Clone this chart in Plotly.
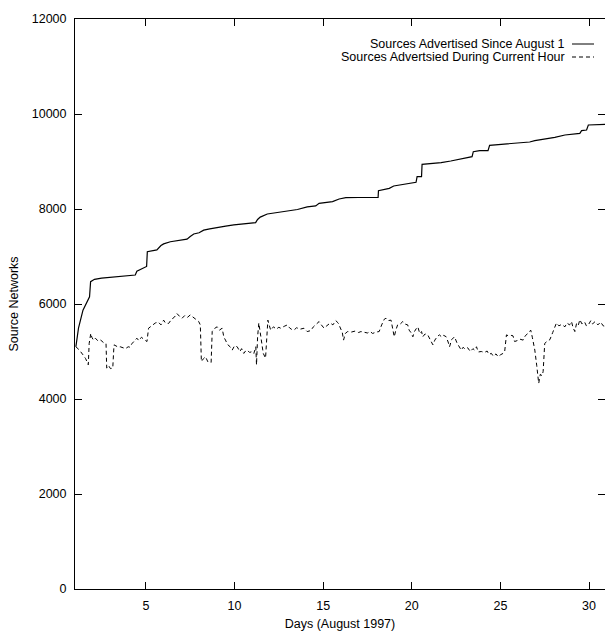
import plotly.graph_objects as go

# Cumulative sources advertised since August 1
days_total = [1.05, 1.2, 1.45, 1.7, 1.82, 1.88, 2.1, 2.5, 3.0, 3.5, 4.0, 4.4, 4.49, 4.7, 5.04, 5.08,
              5.4, 5.62, 5.85, 6.0, 6.38, 6.8, 7.32, 7.5, 7.7, 8.0, 8.26, 8.6, 9.02, 9.5, 9.96, 10.6,
              11.19, 11.3, 11.45, 11.85, 12.5, 13.0, 13.55, 14.1, 14.58, 14.77, 15.2, 15.53, 15.9,
              16.28, 17.0, 17.5, 18.1, 18.12, 18.5, 18.73, 18.98, 19.5, 20.0, 20.24, 20.3, 20.55,
              20.58, 21.0, 21.66, 22.2, 22.79, 23.4, 23.47, 23.83, 24.3, 24.39, 25.05, 25.8, 26.65,
              26.94, 27.5, 28.07, 28.64, 29.48, 29.58, 29.86, 29.96, 31.0]
total = [5100, 5500, 5870, 6050, 6150, 6470, 6520, 6545, 6560, 6575, 6595, 6610, 6690, 6730, 6790, 7100,
         7130, 7140, 7230, 7265, 7310, 7335, 7365, 7420, 7475, 7500, 7555, 7580, 7615, 7640, 7665, 7690,
         7712, 7780, 7830, 7895, 7930, 7960, 7990, 8045, 8065, 8120, 8135, 8155, 8210,
         8238, 8242, 8244, 8246, 8386, 8410, 8435, 8484, 8515, 8540, 8562, 8681, 8681,
         8941, 8955, 8975, 9010, 9053, 9101, 9207, 9228, 9228, 9341, 9362, 9385, 9411,
         9438, 9470, 9509, 9558, 9593, 9649, 9663, 9768, 9783]

# Sources advertised during the current hour
days_hour = [1.05, 1.25, 1.45, 1.6, 1.75, 1.8, 1.89, 1.95, 2.04, 2.15, 2.3, 2.45, 2.6, 2.75, 2.79, 2.9,
             3.0, 3.13, 3.2, 3.3, 3.45, 3.55, 3.7, 3.85, 4.0, 4.1, 4.2, 4.3, 4.4, 4.49, 4.6, 4.75,
             4.9, 5.06, 5.15, 5.3, 5.45, 5.53, 5.7, 5.85, 6.0, 6.1, 6.28, 6.45, 6.6, 6.75, 6.9,
             7.04, 7.2, 7.35, 7.5, 7.65, 7.8, 7.98, 8.07, 8.13, 8.25, 8.36, 8.5, 8.68, 8.74, 8.85,
             9.02, 9.15, 9.3, 9.4, 9.49, 9.6, 9.75, 9.87, 10.0, 10.15, 10.3, 10.4, 10.52, 10.62,
             10.72, 10.85, 11.0, 11.09, 11.2, 11.24, 11.3, 11.37, 11.45, 11.5, 11.58, 11.62, 11.75,
             11.82, 11.88, 11.96, 12.04, 12.2, 12.35, 12.5, 12.6, 12.8, 12.98, 13.1, 13.2, 13.35,
             13.5, 13.7, 13.92, 14.1, 14.3, 14.45, 14.6, 14.77, 14.9, 15.05, 15.2, 15.4, 15.55,
             15.71, 15.85, 16.0, 16.08, 16.15, 16.25, 16.38, 16.6, 16.8, 17.0, 17.13, 17.3, 17.5,
             17.65, 17.79, 18.0, 18.16, 18.3, 18.45, 18.54, 18.65, 18.83, 18.92, 19.01, 19.1, 19.2,
             19.3, 19.49, 19.6, 19.77, 19.85, 19.95, 20.06, 20.15, 20.25, 20.34, 20.45, 20.55,
             20.62, 20.75, 20.9, 21.05, 21.19, 21.3, 21.45, 21.56, 21.7, 21.8, 21.94, 22.05, 22.13,
             22.25, 22.41, 22.55, 22.65, 22.79, 22.9, 23.0, 23.15, 23.3, 23.45, 23.54, 23.65, 23.75,
             23.92, 24.1, 24.25, 24.35, 24.49, 24.6, 24.75, 24.87, 25.0, 25.15, 25.24, 25.34, 25.45,
             25.6, 25.71, 25.8, 25.95, 26.1, 26.28, 26.4, 26.55, 26.71, 26.8, 26.94, 27.05, 27.13,
             27.16, 27.25, 27.35, 27.41, 27.46, 27.5, 27.65, 27.79, 27.95, 28.05, 28.16, 28.3, 28.45,
             28.64, 28.75, 28.9, 29.01, 29.1, 29.2, 29.3, 29.4, 29.48, 29.6, 29.75, 29.85, 29.96,
             30.1, 30.2, 30.34, 30.5, 30.65, 30.8, 31.0]
hourly = [5100, 5030, 4930, 4850, 4720, 5170, 5380, 5300, 5240, 5280, 5220, 5240, 5190, 5170, 4650, 4700,
          4640, 4650, 5140, 5120, 5090, 5100, 5080, 5060, 5100, 5090, 5160, 5200, 5260, 5280, 5230, 5300,
          5250, 5210, 5490, 5540, 5580, 5600, 5620, 5560, 5660, 5600, 5590, 5680, 5720, 5800, 5740,
          5700, 5760, 5720, 5770, 5720, 5680, 5630, 5560, 4790, 4850, 4890, 4780, 4770, 5420, 5480,
          5520, 5450, 5490, 5300, 5240, 5150, 5100, 5030, 5120, 5100, 5000, 5060, 4960, 5010,
          5030, 4980, 5000, 4960, 5100, 4720, 5300, 5600, 5400, 5240, 5100, 4960, 4860,
          5200, 5660, 5550, 5450, 5520, 5470, 5510, 5490, 5530, 5560, 5500, 5470, 5450,
          5500, 5470, 5490, 5420, 5440, 5520, 5580, 5630, 5560, 5490, 5540, 5600, 5560,
          5650, 5600, 5490, 5400, 5240, 5380, 5420, 5410, 5430, 5400, 5420, 5400, 5390,
          5420, 5380, 5410, 5420, 5560, 5680, 5700, 5650, 5660, 5480, 5310, 5450, 5560,
          5560, 5630, 5580, 5560, 5450, 5400, 5310, 5420, 5480, 5520, 5380, 5420,
          5310, 5370, 5350, 5250, 5140, 5240, 5320, 5350, 5300, 5340, 5310, 5200, 5100,
          5250, 5310, 5180, 5120, 5030, 5090, 5050, 5080, 5000, 5060, 5030, 5100, 4990,
          5000, 4980, 5010, 4940, 4960, 4900, 4950, 4890, 4930, 4960, 5000, 5350, 5330,
          5340, 5330, 5210, 5230, 5260, 5240, 5330, 5380, 5450, 5300, 5030, 4700, 4470,
          4330, 4520, 4490, 4580, 4900, 5170, 5220, 5250, 5400, 5480, 5600, 5540, 5570,
          5520, 5600, 5560, 5630, 5500, 5420, 5600, 5560, 5670, 5580, 5620, 5540, 5560,
          5650, 5580, 5630, 5560, 5620, 5540, 5520]

legend_labels = ["Sources Advertised Since August 1", "Sources Advertsied During Current Hour"]
x_ticks = [5, 10, 15, 20, 25, 30]
y_ticks = [0, 2000, 4000, 6000, 8000, 10000, 12000]

FONT = "Liberation Sans, Arial, Helvetica, sans-serif"
FS = 12.5

fig = go.Figure()
fig.add_trace(go.Scatter(x=days_total, y=total, mode="lines", name=legend_labels[0],
                         line=dict(color="black", width=1.2)))
fig.add_trace(go.Scatter(x=days_hour, y=hourly, mode="lines", name=legend_labels[1],
                         line=dict(color="black", width=1, dash="4px,3px")))

axis_common = dict(showline=True, linecolor="black", linewidth=1, mirror="ticks",
                   ticks="inside", ticklen=7, tickcolor="black", tickwidth=1,
                   showgrid=False, zeroline=False,
                   tickfont=dict(family=FONT, size=FS, color="black"))

fig.update_xaxes(range=[1, 30.9], tickvals=x_ticks, ticktext=[str(v) for v in x_ticks],
                 ticklabelstandoff=5,
                 title=dict(text="Days (August 1997)", font=dict(family=FONT, size=FS, color="black"),
                            standoff=7),
                 **axis_common)
fig.update_yaxes(range=[0, 12000], tickvals=y_ticks, ticktext=[str(v) for v in y_ticks],
                 ticklabelstandoff=5,
                 title=dict(text="Source Networks", font=dict(family=FONT, size=FS, color="black"),
                            standoff=10),
                 **axis_common)

# gnuplot-style key: text right-aligned, line sample on the right
W, L = 530.0, 75.0
H, B = 570.0, 589.0
def px(x):
    return (x - L) / W
def py(y):
    return (B - y) / H

rows = [(44, "solid"), (57, "4px,3px")]
for (yy, dash), label in zip(rows, legend_labels):
    fig.add_annotation(x=px(567), y=py(yy), xref="paper", yref="paper", text=label,
                       showarrow=False, xanchor="right", yanchor="middle",
                       font=dict(family=FONT, size=FS, color="black"))
    fig.add_shape(type="line", xref="paper", yref="paper", x0=px(572), x1=px(594),
                  y0=py(yy), y1=py(yy), line=dict(color="black", width=1, dash=dash))

fig.update_layout(width=605, height=635, margin=dict(l=75, r=0, t=19, b=46),
                  paper_bgcolor="white", plot_bgcolor="white", showlegend=False,
                  font=dict(family=FONT, size=FS, color="black"))

fig.write_html("out.html")
